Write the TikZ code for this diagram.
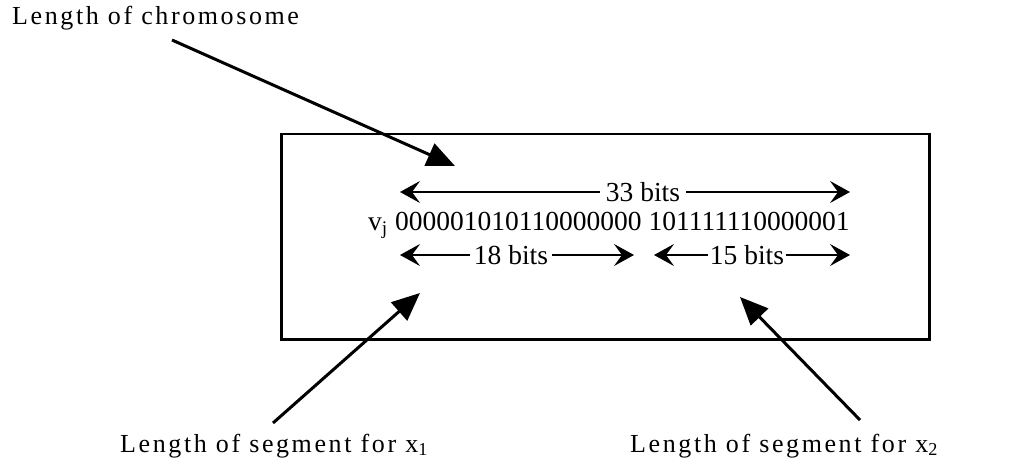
\documentclass[tikz,border=0pt]{standalone}
\usepackage{fontspec}
\setmainfont{Liberation Serif}
\newfontfamily\labelfont[LetterSpace=10]{Liberation Serif}
\usetikzlibrary{arrows.meta, positioning}

\begin{document}
\begin{tikzpicture}[
    x=1pt, y=-1pt,
    chromobox/.style={rectangle, draw, line width=2.5pt, minimum width=648pt, minimum height=205pt, anchor=north west},
    bits/.style={font=\fontsize{27.5}{32}\selectfont, inner sep=0pt},
    outlabel/.style={font=\labelfont\fontsize{26}{30}\selectfont, inner sep=0pt, anchor=base west},
    pointer/.style={-{Triangle[length=28pt, width=24pt]}, line width=3pt},
    bitspan/.style={-{Stealth[length=20pt, width=22pt, inset=8pt]}, line width=1.5pt}
]
\useasboundingbox (0,0) rectangle (1014,465);

\node[chromobox] (box) at (280,133) {};

% chromosome string
\node[bits, anchor=base west] (vbits) at (395,230) {000001010110000000 101111110000001};
\node[bits, base left=7pt of vbits] (vj) {v\textsubscript{j}};

% bit counts
\node[bits, fill=white, inner xsep=6pt] (bits33) at (643,192) {33 bits};
\node[bits, inner xsep=4pt] (bits18) at (511,255) {18 bits};
\node[bits, inner xsep=2pt] (bits15) at (747,255) {15 bits};
\coordinate (l33) at (400,192);
\coordinate (r33) at (850,192);
\coordinate (l18) at (400,255);
\coordinate (r18) at (634,255);
\coordinate (l15) at (654,255);
\coordinate (r15) at (850,255);

\draw[bitspan] (bits33) -- (l33);
\draw[bitspan] (bits33) -- (r33);
\draw[bitspan] (bits18.west) -- (l18);
\draw[bitspan] (bits18.east) -- (r18);
\draw[bitspan] (bits15.west) -- (l15);
\draw[bitspan] (bits15.east) -- (r15);

% outside labels
\node[outlabel] (chromlabel) at (12,25) {Length of chromosome};
\node[outlabel] (seg1label) at (120,452) {Length of segment for x\textsubscript{1}};
\node[outlabel] (seg2label) at (630,452) {Length of segment for x\textsubscript{2}};

\coordinate (chromtail) at (172,40);
\coordinate (chromtip) at (455,166);
\coordinate (seg1tail) at (273,423);
\coordinate (seg1tip) at (420,293);
\coordinate (seg2tail) at (860,420);
\coordinate (seg2tip) at (740,297);

\draw[pointer] (chromtail) -- (chromtip);
\draw[pointer] (seg1tail) -- (seg1tip);
\draw[pointer] (seg2tail) -- (seg2tip);

\end{tikzpicture}
\end{document}
